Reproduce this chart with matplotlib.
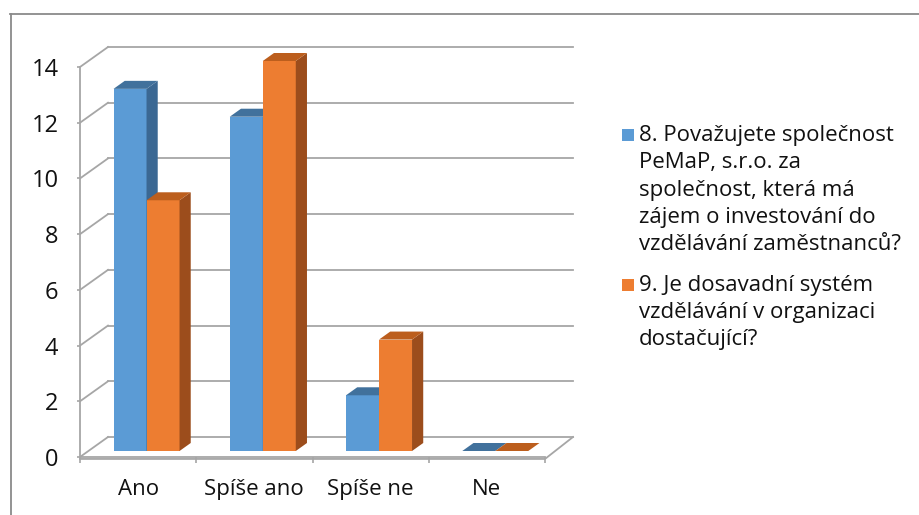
import matplotlib.pyplot as plt
from matplotlib.patches import Polygon, Rectangle

# ---------------------------
# Data
# ---------------------------
categories = ["Ano", "Spíše ano", "Spíše ne", "Ne"]
q8_values = [13, 12, 2, 0]
q9_values = [9, 14, 4, 0]
series_labels = [
    ["8. Považujete společnost", "PeMaP, s.r.o. za", "společnost, která má",
     "zájem o investování do", "vzdělávání zaměstnanců?"],
    ["9. Je dosavadní systém", "vzdělávání v organizaci", "dostačující?"],
]
y_ticks = [0, 2, 4, 6, 8, 10, 12, 14]

# ---------------------------
# Look
# ---------------------------
FONT = "Open Sans"
TXT = "#111111"
W, H = 919, 515
GRID = "#a6a6a6"
colors = [
    {"front": "#5b9bd5", "side": "#3b6893", "top": "#41719c"},
    {"front": "#ed7d31", "side": "#9c4d1c", "top": "#bc5e1d"},
]

# pixel geometry
px_left, px_y0, px_y14 = 80, 457, 67
px_cat = 116.25                 # width of one category on the front plane
px_unit = (px_y0 - px_y14) / 14.0
dxf = 28 / px_cat               # depth offset (full depth) in data units
dyf = 20 / px_unit
bw = 33 / px_cat                # bar width
f0, f1 = 0.3, 0.7               # bar front / back in depth

xlim = (-0.5, 3.8)
ylim = (-0.3, 14.9)

fig = plt.figure(figsize=(W / 100, H / 100), dpi=100)
ax_l = px_left / W
ax_w = (xlim[1] - xlim[0]) * px_cat / W
ax_b = 1 - (px_y0 - ylim[0] * px_unit) / H
ax_h = (ylim[1] - ylim[0]) * px_unit / H
ax = fig.add_axes([ax_l, ax_b, ax_w, ax_h])
ax.set_xlim(*xlim)
ax.set_ylim(*ylim)
ax.patch.set_visible(False)

# outer frame (top and left only are visible in the reference)
fig.add_artist(plt.Line2D([10 / W, 1], [1 - 14 / H, 1 - 14 / H], color="#8a8a8a", lw=1.3))
fig.add_artist(plt.Line2D([11 / W, 11 / W], [1 - 14 / H, 0], color="#8a8a8a", lw=1.3))

# ---------------------------
# Walls and floor
# ---------------------------
x_front0, x_front1 = -0.5, len(categories) - 0.5
for v in y_ticks:
    ax.plot([x_front0 + dxf, x_front1 + dxf], [v + dyf, v + dyf], color=GRID, lw=1.3,
            zorder=1, clip_on=False)
    ax.plot([x_front0, x_front0 + dxf], [v, v + dyf], color=GRID, lw=1.3, zorder=1,
            clip_on=False)
# floor front and right edge
ax.plot([x_front0, x_front1, x_front1 + dxf], [-0.07, -0.07, dyf], color=GRID, lw=1.3,
        zorder=1, clip_on=False)

# ---------------------------
# Bars
# ---------------------------
def draw_bar(x_left, value, c):
    xa = x_left + f0 * dxf
    ya = f0 * dyf
    ddx = (f1 - f0) * dxf
    ddy = (f1 - f0) * dyf
    if value > 0:
        ax.add_patch(Rectangle((xa, ya), bw, value, facecolor=c["front"], lw=0, zorder=3))
        ax.add_patch(Polygon([(xa + bw, ya), (xa + bw + ddx, ya + ddy),
                              (xa + bw + ddx, ya + ddy + value), (xa + bw, ya + value)],
                             closed=True, facecolor=c["side"], lw=0, zorder=3))
    ax.add_patch(Polygon([(xa, ya + value), (xa + bw, ya + value),
                          (xa + bw + ddx, ya + ddy + value), (xa + ddx, ya + ddy + value)],
                         closed=True, facecolor=c["top"], lw=0, zorder=3))


for i in range(len(categories)):
    draw_bar(i - bw, q8_values[i], colors[0])
    draw_bar(i, q9_values[i], colors[1])

# ---------------------------
# Axes
# ---------------------------
for s in ["top", "right"]:
    ax.spines[s].set_visible(False)
ax.spines["left"].set_bounds(0, 14)
ax.spines["left"].set_color(GRID)
ax.spines["left"].set_linewidth(1.3)
ax.spines["bottom"].set_position(("data", 0))
ax.spines["bottom"].set_bounds(x_front0, x_front1)
ax.spines["bottom"].set_color(GRID)
ax.spines["bottom"].set_linewidth(1.3)

ax.set_yticks(y_ticks)
ax.set_yticklabels([str(v) for v in y_ticks], fontsize=17, family=FONT, color=TXT)
ax.tick_params(axis="y", length=2.5, width=1.2, color=GRID, pad=13)

ax.set_xticks([x_front0 + k for k in range(len(categories) + 1)])
ax.set_xticklabels([])
ax.tick_params(axis="x", which="major", length=4.5, width=1.2, color=GRID)
ax.set_xticks(range(len(categories)), minor=True)
ax.set_xticklabels(categories, minor=True, fontsize=16, family=FONT, color=TXT)
ax.tick_params(axis="x", which="minor", length=0, pad=16)

# ---------------------------
# Legend
# ---------------------------
entry_tops = [135, 285]
line_step = 27.5
for k, lines in enumerate(series_labels):
    y0 = entry_tops[k]
    fig.add_artist(Rectangle((622 / W, 1 - (y0 + 6) / H), 12 / W, 12 / H,
                             facecolor=colors[k]["front"], lw=0, transform=fig.transFigure))
    for j, line in enumerate(lines):
        fig.text(639 / W, 1 - (y0 + j * line_step) / H, line, fontsize=16, family=FONT,
                 color=TXT, va="center", ha="left")

fig.savefig("out.png", dpi=100)
